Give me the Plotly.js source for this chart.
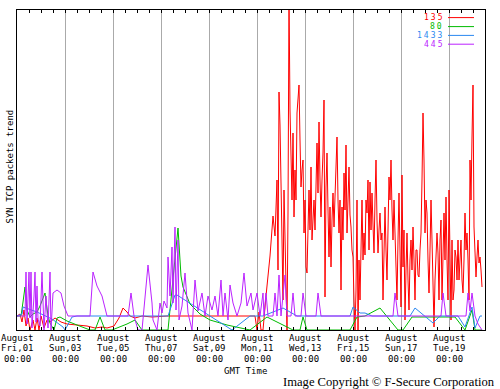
<!DOCTYPE html>
<html><head><meta charset="utf-8">
<script src="https://cdn.plot.ly/plotly-3.0.1.min.js"></script>
<style>html,body{margin:0;padding:0;background:#fff}#chart{width:500px;height:389px}</style>
</head><body><div id="chart"></div>
<script>
// x values: hours since August 01 00:00 GMT ; y: SYN TCP packets trend (arbitrary units, 0 = baseline)
const tickHours = [0,48,96,144,192,240,288,336,384,432];
const tickLine1 = ["August","August","August","August","August","August","August","August","August","August"];
const tickLine2 = ["Fri,01","Sun,03","Tue,05","Thu,07","Sat,09","Mon,11","Wed,13","Fri,15","Sun,17","Tue,19"];
const tickLine3 = ["00:00","00:00","00:00","00:00","00:00","00:00","00:00","00:00","00:00","00:00"];

const seriesNames = ["135","80","1433","445"];
const seriesColors = ["#ff0000","#00bb00","#2a88f0","#bb22ff"];

const redHours = [0,3,5,7,9,11,13,16,18,20,22,24,27,30,33,38,44,50,60,70,78,85,90,97,102,106,110,113,118,125,135,150,170,200,220,233,238,240,242,244,246,249,253,256,258,260,261,262,263,265,266,267,269,270,
271,272,273,274,275,276,277,278,279,280,
281,282,283,284,285,286,287,288,289,290,
291,292,293,294,295,296,297,298,299,300,
301,302,303,304,305,306,307,308,309,310,
311,312,313,314,315,316,317,318,319,320,
321,322,323,324,325,326,327,328,329,330,
331,332,333,334,335,336,337,338,339,340,
341,342,343,344,345,346,347,348,349,350,
351,352,353,354,355,356,357,358,359,360,
361,362,363,364,365,366,367,368,369,370,
371,372,373,374,375,376,377,378,379,380,
381,382,383,384,385,386,387,388,389,390,
391,392,393,394,395,396,397,398,399,400,
401,402,403,404,405,406,407,408,409,410,
411,412,413,414,415,416,417,418,419,420,
421,422,423,424,425,426,427,428,429,430,
431,432,433,434,435,436,437,438,439,440,
441,442,443,444,445,446,447,448,449,450,
451,452,453,454,455,456,457,458,459,460,
461,462,463,464,465];
const redValues = [0,2,-6,6,-10,-2,-14,-4,-14,-2,-14,0,-12,-4,-6,-2,-6,-8,-9,-10,-12,-11,-12,-10,-2,8,4,0,-2,0,-1,0,0,0,0,0,0,-14,4,-14,-14,20,60,100,80,136,46,224,191,76,16,126,16,-14,
103,320,206,156,116,183,99,146,116,203,
216,231,176,129,146,156,83,116,49,43,
86,126,86,149,76,96,116,86,146,173,
123,194,136,99,136,163,216,19,129,163,
106,59,109,49,96,123,89,116,133,179,
116,83,116,26,109,76,143,106,171,83,
116,149,101,89,66,59,16,-14,26,116,
-14,56,16,76,116,56,83,61,116,103,
136,66,134,86,123,91,63,116,156,96,
63,86,103,76,83,16,86,109,66,36,
86,139,116,156,106,76,116,83,46,16,
76,123,66,9,141,49,86,-4,46,83,
36,6,56,76,46,89,56,16,66,66,
41,39,66,83,136,203,156,83,116,103,
56,23,66,116,76,43,-11,36,56,83,
63,16,76,96,16,66,103,56,119,56,
16,126,56,-4,76,16,26,66,59,36,
76,36,56,76,36,23,56,103,66,83,
56,16,156,116,179,231,89,66,39,59,
76,53,59,46,29];

const greenHours = [0,4,6,8,10,13,16,20,23,28,31,33,37,40,43,50,60,73,78,83,88,95,110,118,125,151,161,164,166,173,183,193,210,225,233,250,276,283,286,290,333,340,348,363,381,386,395,438,448,455,458,465];
const greenValues = [0,0,14,29,6,-1,2,4,10,23,0,-7,-14,-2,-1,-5,-9,-14,-14,-1,-14,-14,-8,-4,-14,-14,88,40,29,12,2,-4,-9,-12,-14,-1,-14,-14,-1,-14,-14,-1,0,8,-14,-14,-1,-1,-14,6,-14,-14];

const blueHours = [0,5,6,20,35,46,48,55,60,151,158,160,215,233,246,266,280,333,336,343,348,355,393,398,416,423,441,448,455,458,463,465];
const blueValues = [0,2,9,4,-3,-11,-14,-1,0,0,21,21,-14,0,0,8,0,0,9,3,3,0,0,8,-7,0,0,-11,9,-12,0,0];

const magentaHours = [0,8,9,10,12,13,14,15,17,18,19,20,21,23,25,27,29,31,33,34,36,40,44,47,51,73,76,80,85,90,111,114,117,121,125,131,135,136,140,143,145,147,150,151,153,155,156,158,159,161,162,165,168,171,175,178,181,185,188,191,195,198,201,204,206,208,211,213,216,220,224,227,230,234,236,240,243,246,247,249,251,256,258,260,262,264,268,270,274,276,278,284,286,289,299,301,304,376,378,381,424,426,429,449,451,453,455,458,461,465];
const magentaValues = [0,0,44,-8,44,-2,44,-12,20,44,-6,30,-3,-10,44,-14,20,-12,44,-14,23,26,23,10,0,0,44,30,20,0,0,23,0,-14,-14,51,13,-4,-14,13,3,15,8,59,20,69,13,89,6,76,-4,10,43,3,-14,36,5,23,0,20,6,20,0,36,0,23,-4,31,13,0,13,43,10,23,6,23,0,23,0,23,0,0,23,0,41,0,41,0,0,23,0,0,23,0,0,23,0,0,23,0,0,23,0,0,23,5,23,0,-8,-14];

const hoursList = [redHours, greenHours, blueHours, magentaHours];
const valuesList = [redValues, greenValues, blueValues, magentaValues];

const traces = seriesNames.map((n,i)=>({
  type:'scatter', mode:'lines', name:n,
  x: hoursList[i], y: valuesList[i],
  line:{color:seriesColors[i], width:1},
  hoverinfo:'skip', cliponaxis:true
}));

const mono = {family:'DejaVu Sans Mono, monospace', size:9, color:'#000'};
const ann = [];
const PL=17, PR=485, PT=10, PB=330;
const px2paperX = p => (p-PL)/(PR-PL);
const py2paperY = p => (PB-p)/(PB-PT);
const tickRows = [337.8, 348.4, 359.0];
tickHours.forEach((h,i)=>{
  [tickLine1[i],tickLine2[i],tickLine3[i]].forEach((t,k)=>{
    ann.push({xref:'x', yref:'paper', x:h, y:py2paperY(tickRows[k]), text:t, showarrow:false, xanchor:'center', yanchor:'middle', font:mono, borderpad:0});
  });
});
ann.push({xref:'paper', yref:'paper', x:px2paperX(245.5), y:py2paperY(370.5), text:'GMT Time', showarrow:false, xanchor:'center', yanchor:'middle', font:mono, borderpad:0});
ann.push({xref:'paper', yref:'paper', x:px2paperX(9.5), y:py2paperY(167), text:'SYN TCP packets trend', textangle:-90, showarrow:false, xanchor:'center', yanchor:'middle', font:mono});
ann.push({xref:'paper', yref:'paper', x:px2paperX(497), y:py2paperY(381.5), text:'Image Copyright © F-Secure Corporation', showarrow:false, xanchor:'right', yanchor:'middle', font:{family:'Liberation Serif, serif', size:12.6, color:'#000'}});

const legendRows = [17.6, 26.6, 35.4, 44.2];
const shapes = [{type:'rect', xref:'paper', yref:'paper', x0:px2paperX(436), x1:1, y0:py2paperY(48), y1:1, fillcolor:'#fff', line:{width:0}, layer:'between'}];
seriesNames.forEach((n,i)=>{
  ann.push({xref:'paper', yref:'paper', x:px2paperX(444.5), y:py2paperY(legendRows[i]), text:'<span style="letter-spacing:2px">'+n+'</span>', showarrow:false, xanchor:'right', yanchor:'middle', borderpad:0, font:{family:'DejaVu Sans Mono, monospace', size:8, color:seriesColors[i]}});
  shapes.push({type:'line', xref:'paper', yref:'paper', x0:px2paperX(448), x1:px2paperX(474), y0:py2paperY(legendRows[i]), y1:py2paperY(legendRows[i]), line:{color:seriesColors[i], width:1}});
});

const layout = {
  width:500, height:389,
  margin:{l:PL, r:500-PR, t:PT, b:389-PB, pad:0},
  paper_bgcolor:'#fff', plot_bgcolor:'#fff',
  showlegend:false,
  xaxis:{range:[0,468], tickmode:'array', tickvals:tickHours, ticktext:tickLine2, showticklabels:false,
    ticks:'inside', ticklen:3, tickcolor:'#000', tickwidth:1,
    showgrid:true, gridcolor:'#aaaaaa', gridwidth:1,
    showline:true, linecolor:'#000', linewidth:1, mirror:'allticks', zeroline:false,
    minor:{tickmode:'linear', tick0:0, dtick:12, ticks:'inside', ticklen:3, tickcolor:'#000', tickwidth:1, showgrid:false}},
  yaxis:{range:[-14,306], showgrid:false, zeroline:false, showticklabels:false, ticks:'',
    showline:true, linecolor:'#000', linewidth:1, mirror:true},
  annotations:ann,
  shapes:shapes
};
Plotly.newPlot('chart', traces, layout, {staticPlot:true, displayModeBar:false});
</script></body></html>
